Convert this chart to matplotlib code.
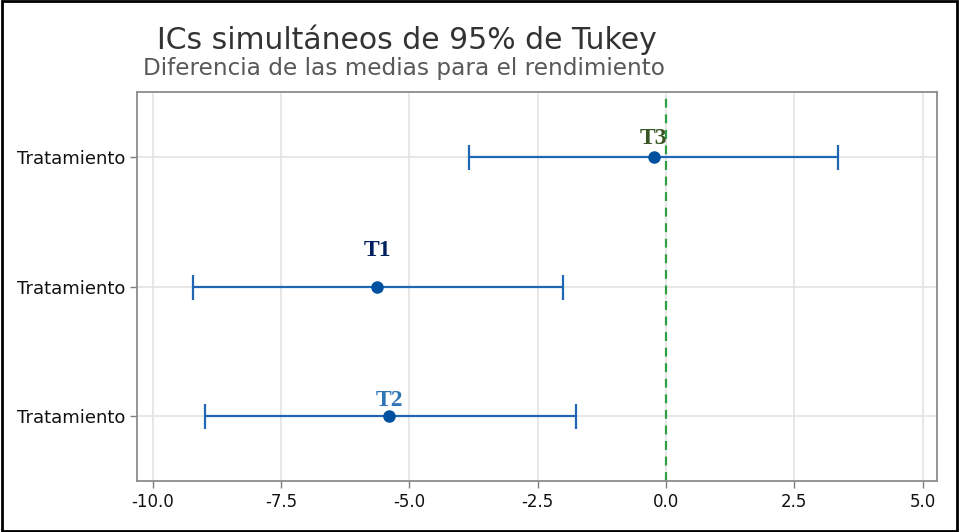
import matplotlib.pyplot as plt
import numpy as np

# Tukey simultaneous 95% CIs (difference of means)
names = ["T3", "T1", "T2"]
row_labels = ["Tratamiento", "Tratamiento", "Tratamiento"]
centers = [-0.24, -5.63, -5.39]
lower = [-3.84, -9.22, -8.98]
upper = [3.36, -2.00, -1.76]
name_colors = ["#375623", "#002060", "#2E75B6"]
xticks = [-10.0, -7.5, -5.0, -2.5, 0.0, 2.5, 5.0]

plt.rcParams['font.family'] = ['DejaVu Sans']

fig = plt.figure(figsize=(9.59, 5.32), dpi=100)
ax = fig.add_axes([137 / 959, 1 - 481 / 532, 800 / 959, 389 / 532])

ypos = np.array([3, 2, 1])
c = np.array(centers)
err = np.vstack([c - np.array(lower), np.array(upper) - c])
ax.errorbar(c, ypos, xerr=err, fmt='o', color='#1F66B5', ecolor='#1F66B5',
            markerfacecolor='#0050A0', markeredgecolor='#0050A0', markersize=8,
            elinewidth=1.6, capsize=9, capthick=1.6, zorder=3)

ax.axvline(0, color='#2EA043', linestyle=(0, (4, 3)), linewidth=1.6, zorder=2)

offsets = {"T3": 0.06, "T1": 0.2, "T2": 0.04}
for i, n in enumerate(names):
    ax.text(c[i], ypos[i] + offsets[n], n, ha='center', va='bottom', fontsize=17,
            fontweight='bold', family='Liberation Serif', color=name_colors[i])

ax.set_xlim(-10.31, 5.28)
ax.set_ylim(0.5, 3.5)
ax.set_xticks(xticks)
ax.set_xticklabels([f"{t:.1f}" for t in xticks], fontsize=12)
ax.set_yticks(ypos)
ax.set_yticklabels(row_labels, fontsize=13)
ax.grid(True, color='#E3E3E3', linewidth=1.2)
ax.set_axisbelow(True)
for s in ax.spines.values():
    s.set_color('#8C8C8C')
    s.set_linewidth(1.3)
ax.tick_params(axis='both', colors='#7F7F7F', labelcolor='#111111', length=5, width=1)

fig.text(157 / 959, 1 - 40 / 532, "ICs simultáneos de 95% de Tukey", fontsize=21.5,
         color='#333333', va='center', ha='left')
fig.text(143 / 959, 1 - 68 / 532, "Diferencia de las medias para el rendimiento", fontsize=16.7,
         color='#595959', va='center', ha='left')

# outer border
fig.patches.append(plt.Rectangle((0.002, 0.002), 0.996, 0.996, transform=fig.transFigure,
                                 fill=False, edgecolor='black', linewidth=2))

fig.savefig("out.png", dpi=100)
